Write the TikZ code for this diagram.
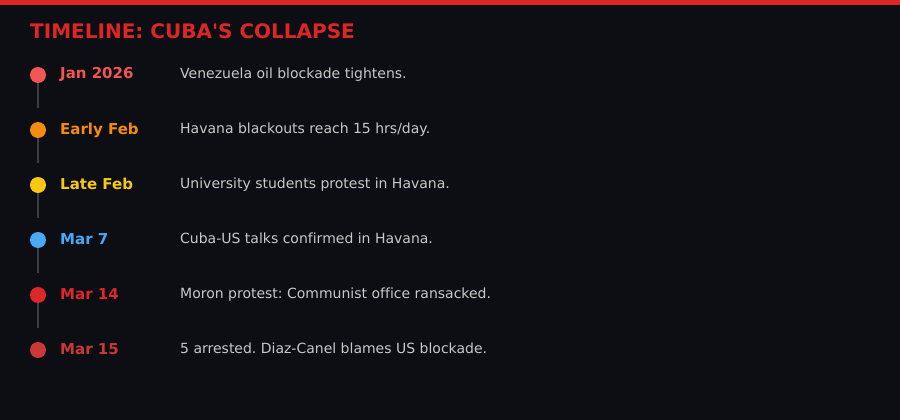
\documentclass[tikz,border=0pt]{standalone}
\usepackage{fontspec}
\setmainfont{DejaVu Sans}[Ligatures=NoCommon]
\definecolor{bg}{HTML}{0D0E13}
\definecolor{topred}{HTML}{DC2626}
\definecolor{linegray}{HTML}{3A3D47}
\definecolor{evtxt}{HTML}{C8C8C8}
\definecolor{cA}{HTML}{F25555}
\definecolor{cB}{HTML}{F58C0F}
\definecolor{cC}{HTML}{F8C814}
\definecolor{cD}{HTML}{48A8FA}
\definecolor{cE}{HTML}{DC2828}
\definecolor{cF}{HTML}{CC3838}
\tikzset{
  dot/.style={circle, inner sep=0pt, minimum size=16pt},
  datelbl/.style={anchor=base west, inner sep=0pt, font=\fontsize{15}{18}\selectfont\bfseries},
  evt/.style={anchor=base west, inner sep=0pt, text=evtxt, font=\fontsize{14}{17}\selectfont},
  conn/.style={draw=linegray, line width=2pt}
}
\begin{document}
\frenchspacing
\begin{tikzpicture}[x=1pt,y=-1pt]
\fill[bg] (0,0) rectangle (900,420);
\useasboundingbox (0,0) rectangle (900,420);
\fill[topred] (0,0) rectangle (900,5);
\node[anchor=base west, inner sep=0pt, text=topred, font=\fontsize{20}{24}\selectfont\bfseries] (title) at (30,39) {TIMELINE: CUBA\textquotesingle S COLLAPSE};
\node[dot, fill=cA] (d1) at (38,75) {};
\node[dot, fill=cB] (d2) at (38,130) {};
\node[dot, fill=cC] (d3) at (38,185) {};
\node[dot, fill=cD] (d4) at (38,240) {};
\node[dot, fill=cE] (d5) at (38,295) {};
\node[dot, fill=cF] (d6) at (38,350) {};
\foreach \a/\b in {d1/d2,d2/d3,d3/d4,d4/d5,d5/d6}{
  \draw[conn] (\a.south) -- ([yshift=14pt]\b.north);
}
\node[datelbl, text=cA] (t1) at (60,79) {Jan 2026};
\node[datelbl, text=cB] (t2) at (60,134) {Early Feb};
\node[datelbl, text=cC] (t3) at (60,189) {Late Feb};
\node[datelbl, text=cD] (t4) at (60,244) {Mar 7};
\node[datelbl, text=cE] (t5) at (60,299) {Mar 14};
\node[datelbl, text=cF] (t6) at (60,354) {Mar 15};
\node[evt] (e1) at (180,78) {Venezuela oil blockade tightens.};
\node[evt] (e2) at (180,133) {Havana blackouts reach 15 hrs/day.};
\node[evt] (e3) at (180,188) {University students protest in Havana.};
\node[evt] (e4) at (180,243) {Cuba-US talks confirmed in Havana.};
\node[evt] (e5) at (180,298) {Moron protest: Communist office ransacked.};
\node[evt] (e6) at (180,353) {5 arrested. Diaz-Canel blames US blockade.};
\end{tikzpicture}
\end{document}
